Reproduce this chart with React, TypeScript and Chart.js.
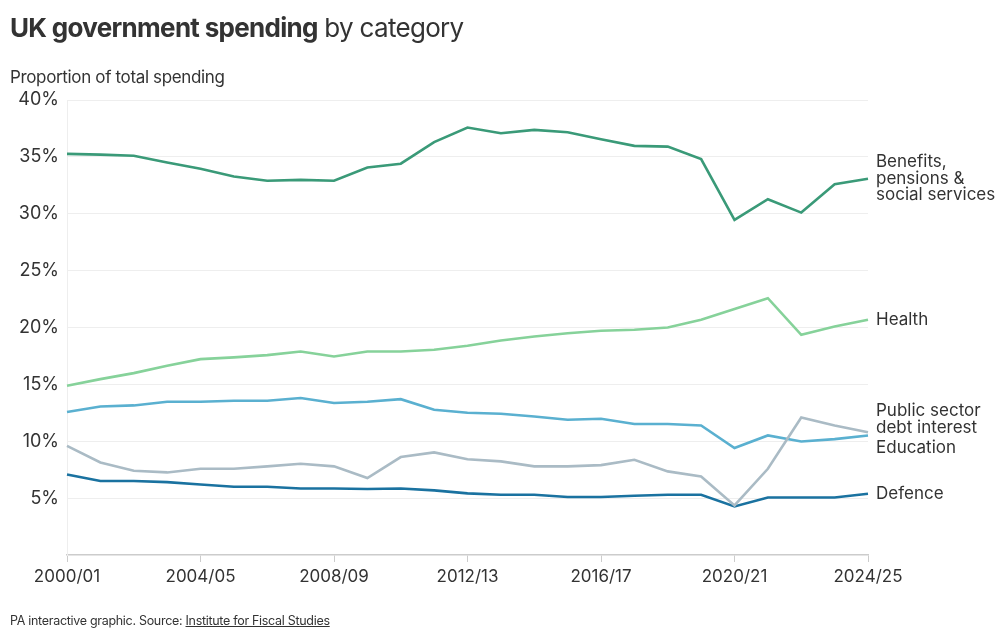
import React, { useEffect, useRef } from "react";
import { Chart, registerables } from "chart.js";

Chart.register(...registerables);

const years: string[] = [
  "2000/01", "2001/02", "2002/03", "2003/04", "2004/05", "2005/06", "2006/07",
  "2007/08", "2008/09", "2009/10", "2010/11", "2011/12", "2012/13", "2013/14",
  "2014/15", "2015/16", "2016/17", "2017/18", "2018/19", "2019/20", "2020/21",
  "2021/22", "2022/23", "2023/24", "2024/25",
];

const benefits: number[] = [
  35.26, 35.2, 35.1, 34.5, 33.95, 33.27, 32.9, 32.98, 32.9, 34.06, 34.4, 36.3,
  37.58, 37.08, 37.37, 37.17, 36.55, 35.97, 35.9, 34.8, 29.46, 31.28, 30.1,
  32.6, 33.07,
];
const health: number[] = [
  14.88, 15.46, 15.99, 16.63, 17.22, 17.37, 17.57, 17.89, 17.45, 17.89, 17.89,
  18.04, 18.4, 18.86, 19.21, 19.5, 19.71, 19.8, 20.0, 20.68, 21.62, 22.58,
  19.36, 20.09, 20.68,
];
const education: number[] = [
  12.57, 13.06, 13.15, 13.47, 13.47, 13.56, 13.56, 13.8, 13.36, 13.47, 13.7,
  12.77, 12.5, 12.42, 12.18, 11.89, 11.98, 11.51, 11.51, 11.39, 9.4, 10.51,
  9.98, 10.19, 10.51,
];
const debtInterest: number[] = [
  9.6, 8.14, 7.41, 7.26, 7.58, 7.58, 7.79, 8.02, 7.79, 6.77, 8.61, 9.02, 8.42,
  8.23, 7.79, 7.79, 7.9, 8.37, 7.35, 6.91, 4.36, 7.58, 12.09, 11.39, 10.8,
];
const defence: number[] = [
  7.08, 6.5, 6.5, 6.41, 6.2, 6.0, 6.0, 5.85, 5.85, 5.8, 5.85, 5.68, 5.42, 5.3,
  5.3, 5.1, 5.1, 5.21, 5.3, 5.3, 4.27, 5.06, 5.06, 5.06, 5.39,
];

const yTicks: number[] = [5, 10, 15, 20, 25, 30, 35, 40];

const FONT = "Inter, 'Noto Sans', sans-serif";
const TEXT = "#333333";

type LabelInfo = { lines: string[]; dy: number };

const endLabels: Record<string, LabelInfo> = {
  benefits: { lines: ["Benefits,", "pensions &", "social services"], dy: 0 },
  health: { lines: ["Health"], dy: 0 },
  debt: { lines: ["Public sector", "debt interest"], dy: -13 },
  education: { lines: ["Education"], dy: 12 },
  defence: { lines: ["Defence"], dy: 0 },
};

const endLabelPlugin = {
  id: "endLabels",
  afterDatasetsDraw(chart: any) {
    const ctx = chart.ctx;
    ctx.save();
    ctx.font = `17px ${FONT}`;
    ctx.fillStyle = TEXT;
    ctx.textAlign = "left";
    ctx.textBaseline = "middle";
    const lh = 16.5;
    chart.data.datasets.forEach((ds: any, i: number) => {
      const info = endLabels[ds.key];
      if (!info) return;
      const meta = chart.getDatasetMeta(i);
      const pt = meta.data[meta.data.length - 1];
      if (!pt) return;
      const x = chart.chartArea.right + 8;
      const n = info.lines.length;
      const yc = pt.y + info.dy;
      info.lines.forEach((line, j) => {
        ctx.fillText(line, x, yc + (j - (n - 1) / 2) * lh);
      });
    });
    ctx.restore();
  },
};

export default function App() {
  const ref = useRef<HTMLCanvasElement | null>(null);

  useEffect(() => {
    document.body.style.margin = "0";
    const canvas = ref.current;
    if (!canvas) return;
    const mk = (key: string, label: string, data: number[], color: string) => ({
      key,
      label,
      data,
      borderColor: color,
      backgroundColor: color,
      borderWidth: 2.6,
      pointRadius: 0,
      tension: 0,
      fill: false,
    });
    const chart = new Chart(canvas, {
      type: "line",
      data: {
        labels: years,
        datasets: [
          mk("benefits", "Benefits, pensions & social services", benefits, "#3a9a78"),
          mk("health", "Health", health, "#86d29a"),
          mk("debt", "Public sector debt interest", debtInterest, "#aabbc5"),
          mk("education", "Education", education, "#5ab0d0"),
          mk("defence", "Defence", defence, "#1a72a0"),
        ] as any,
      },
      options: {
        animation: false,
        responsive: false,
        maintainAspectRatio: false,
        layout: { padding: { top: 100, right: 132, bottom: 0, left: 0 } },
        plugins: {
          legend: { display: false },
          tooltip: { enabled: false },
          title: { display: false },
        },
        scales: {
          x: {
            type: "category",
            offset: false,
            grid: {
              drawOnChartArea: false,
              drawTicks: true,
              tickLength: 7,
              color: "#cccccc",
            },
            border: { display: true, color: "#cccccc", width: 1.5 },
            ticks: {
              autoSkip: false,
              maxRotation: 0,
              padding: 5,
              color: TEXT,
              font: { family: FONT, size: 17 },
              callback: (_v: any, i: number) => (i % 4 === 0 ? years[i] : null),
            },
            afterFit: (scale: any) => {
              scale.height = 82;
            },
          },
          y: {
            min: 0,
            max: 40,
            afterBuildTicks: (scale: any) => {
              scale.ticks = [0, ...yTicks].map((v) => ({ value: v }));
            },
            grid: {
              drawTicks: false,
              color: (c: any) => (c.tick && c.tick.value === 0 ? "rgba(0,0,0,0)" : "#eeeeee"),
              lineWidth: 1,
            },
            border: { display: true, color: "#eeeeee" },
            ticks: {
              padding: 8,
              color: TEXT,
              font: { family: FONT, size: 18 },
              callback: (v: any) => (v === 0 ? "" : `${v}%`),
            },
            afterFit: (scale: any) => {
              scale.width = 67;
            },
          },
        },
      },
      plugins: [endLabelPlugin],
    });
    return () => chart.destroy();
  }, []);

  return (
    <div style={{ position: "relative", width: 1000, height: 637, background: "#fff", fontFamily: FONT, color: TEXT }}>
      <canvas ref={ref} width={1000} height={637} style={{ position: "absolute", left: 0, top: 0, width: 1000, height: 637 }} />
      <div style={{ position: "absolute", left: 10, top: 12, fontSize: 26, letterSpacing: -0.7, whiteSpace: "nowrap" }}>
        <span style={{ fontWeight: 700 }}>UK government spending</span>
        <span style={{ fontWeight: 400 }}> by category</span>
      </div>
      <div style={{ position: "absolute", left: 10, top: 67, fontSize: 17, letterSpacing: -0.35, whiteSpace: "nowrap" }}>
        Proportion of total spending
      </div>
      <div style={{ position: "absolute", left: 10, top: 613, fontSize: 12.5, letterSpacing: -0.3, whiteSpace: "nowrap" }}>
        PA interactive graphic. Source: <span style={{ textDecoration: "underline" }}>Institute for Fiscal Studies</span>
      </div>
    </div>
  );
}
